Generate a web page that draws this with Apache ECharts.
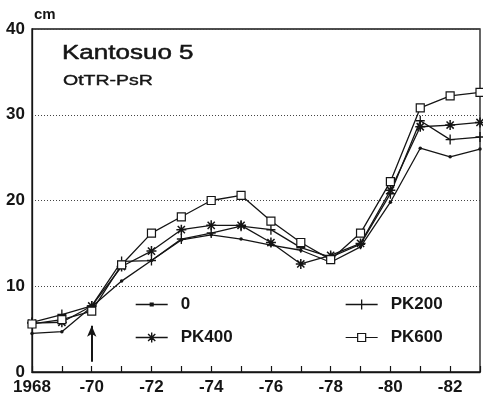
<!DOCTYPE html>
<html>
<head>
<meta charset="utf-8">
<script src="https://cdn.jsdelivr.net/npm/echarts@6/dist/echarts.min.js"></script>
<style>
  html, body { margin: 0; padding: 0; background: #fff; }
  #chart { width: 483px; height: 397px; }
</style>
</head>
<body>
<div id="chart"></div>
<script>
// Peat subsidence, Kantosuo 5 (OtTR-PsR), cm by year
const years = [1968, 1969, 1970, 1971, 1972, 1973, 1974, 1975, 1976, 1977, 1978, 1979, 1980, 1981, 1982, 1983];
const s0    = [4.5, 4.7, 7.6, 10.6, 13.0, 15.4, 16.0, 15.5, 14.8, 14.2, 12.8, 14.6, 19.8, 26.1, 25.1, 26.0];
const pk200 = [5.8, 6.7, 7.7, 12.9, 13.0, 15.5, 16.2, 17.0, 16.6, 14.5, 13.4, 14.9, 20.8, 29.3, 27.1, 27.4];
const pk400 = [5.7, 5.8, 7.7, 12.3, 14.1, 16.6, 17.1, 17.1, 15.1, 12.6, 13.6, 15.0, 21.2, 28.6, 28.8, 29.1];
const pk600 = [5.6, 6.1, 7.1, 12.5, 16.2, 18.1, 20.0, 20.6, 17.6, 15.1, 13.1, 16.2, 22.2, 30.8, 32.2, 32.6];

// x tick labels (every second year)
const labelYears = [1968, 1970, 1972, 1974, 1976, 1978, 1980, 1982];
const labelTexts = ['1968', '-70', '-72', '-74', '-76', '-78', '-80', '-82'];
const yTicks = [0, 10, 20, 30, 40];

// treatment start marker (arrow under 1970)
const arrowYear = 1970;
const arrowFrom = 1.2;
const arrowTo = 5.4;

const INK = '#151515';
const FONT = '"Liberation Sans", Arial, sans-serif';
const pairs = arr => years.map((y, i) => [y, arr[i]]);

// marker shapes
const PLUS = 'path://M0,-5L0,5M-4.5,0L4.5,0';
const STAR = 'path://M0,-5L0,5M-5,0L5,0M-3.6,-3.6L3.6,3.6M-3.6,3.6L3.6,-3.6';

// legend keys: line sample with the marker in its middle (32 px wide)
const KEY_DOT = 'path://M0,6H32M14.6,4.6H17.4V7.4H14.6Z';
const KEY_PLUS = 'path://M0,6H32M16,1V11M11.5,6H20.5';
const KEY_STAR = 'path://M0,6H32M16,1V11M11,6H21M12.4,2.4L19.6,9.6M12.4,9.6L19.6,2.4';
const KEY_RECT = 'path://M0,6H12M20,6H32M12,2H20V10H12Z';

const chart = echarts.init(document.getElementById('chart'), null, { renderer: 'canvas' });

const base = {
  type: 'line',
  lineStyle: { color: INK, width: 1.3 },
  emphasis: { disabled: true },
  animation: false,
  z: 3
};

const legendCommon = {
  orient: 'vertical',
  padding: 0,
  itemWidth: 32, itemHeight: 12, itemGap: 16,
  symbolKeepAspect: true,
  textStyle: { color: INK, fontSize: 17, fontWeight: 'bold', fontFamily: FONT, padding: [0, 0, 0, 8] },
  selectedMode: false
};

chart.setOption({
  backgroundColor: '#fff',
  animation: false,
  textStyle: { fontFamily: FONT },
  grid: {
    left: 32, top: 29, right: 2, bottom: 25,
    show: true, borderColor: INK, borderWidth: 1.3, backgroundColor: 'transparent'
  },
  graphic: [
    { type: 'text', x: 62, y: 43, scaleX: 1.3, z: 10,
      style: { text: 'Kantosuo 5', fill: INK, stroke: INK, lineWidth: 0.5, font: '20px ' + FONT } },
    { type: 'text', x: 63, y: 73, scaleX: 1.3, z: 10,
      style: { text: 'OtTR-PsR', fill: INK, stroke: INK, lineWidth: 0.4, font: '15px ' + FONT } },
    { type: 'text', x: 34, y: 7, z: 10,
      style: { text: 'cm', fill: INK, font: 'bold 15px ' + FONT } }
  ],
  legend: [
    Object.assign({}, legendCommon, {
      left: 135, top: 296,
      data: [
        { name: '0', icon: KEY_DOT, itemStyle: { color: INK, borderColor: INK, borderWidth: 1.3 } },
        { name: 'PK400', icon: KEY_STAR, itemStyle: { color: 'rgba(0,0,0,0)', borderColor: INK, borderWidth: 1.4 } }
      ]
    }),
    Object.assign({}, legendCommon, {
      left: 345, top: 296,
      data: [
        { name: 'PK200', icon: KEY_PLUS, itemStyle: { color: 'rgba(0,0,0,0)', borderColor: INK, borderWidth: 1.3 } },
        { name: 'PK600', icon: KEY_RECT, itemStyle: { color: '#fff', borderColor: INK, borderWidth: 1.2 } }
      ]
    })
  ],
  xAxis: {
    type: 'value',
    min: years[0], max: years[years.length - 1], interval: 1,
    axisLine: { show: true, lineStyle: { color: INK, width: 1.3 } },
    axisTick: { show: true, inside: true, length: 6, lineStyle: { color: INK, width: 1.2 } },
    splitLine: { show: false },
    axisLabel: {
      margin: 7, color: INK, fontSize: 17, fontWeight: 'bold',
      showMinLabel: true, showMaxLabel: true,
      formatter: v => {
        const i = labelYears.indexOf(v);
        return i >= 0 ? labelTexts[i] : '';
      }
    }
  },
  yAxis: {
    type: 'value',
    min: yTicks[0], max: yTicks[yTicks.length - 1], interval: 10,
    axisLine: { show: true, lineStyle: { color: INK, width: 1.3 } },
    axisTick: { show: false },
    splitLine: { show: true, lineStyle: { color: '#444', width: 1, type: [1, 2] } },
    axisLabel: { margin: 7, color: INK, fontSize: 17, fontWeight: 'bold' }
  },
  series: [
    Object.assign({}, base, {
      name: '0',
      data: pairs(s0),
      symbol: 'circle', symbolSize: 3.5,
      itemStyle: { color: INK },
      markLine: {
        silent: true,
        symbol: ['none', 'arrow'],
        symbolSize: [7, 11],
        label: { show: false },
        lineStyle: { color: INK, width: 2, type: 'solid' },
        data: [[{ coord: [arrowYear, arrowFrom] }, { coord: [arrowYear, arrowTo] }]]
      }
    }),
    Object.assign({}, base, {
      name: 'PK200',
      data: pairs(pk200),
      symbol: PLUS, symbolSize: [9, 10],
      itemStyle: { color: 'rgba(0,0,0,0)', borderColor: INK, borderWidth: 1.4 }
    }),
    Object.assign({}, base, {
      name: 'PK400',
      data: pairs(pk400),
      symbol: STAR, symbolSize: 10,
      itemStyle: { color: 'rgba(0,0,0,0)', borderColor: INK, borderWidth: 1.5 }
    }),
    Object.assign({}, base, {
      name: 'PK600',
      data: pairs(pk600),
      symbol: 'rect', symbolSize: 8,
      itemStyle: { color: '#fff', borderColor: INK, borderWidth: 1.2 }
    })
  ]
});
</script>
</body>
</html>
